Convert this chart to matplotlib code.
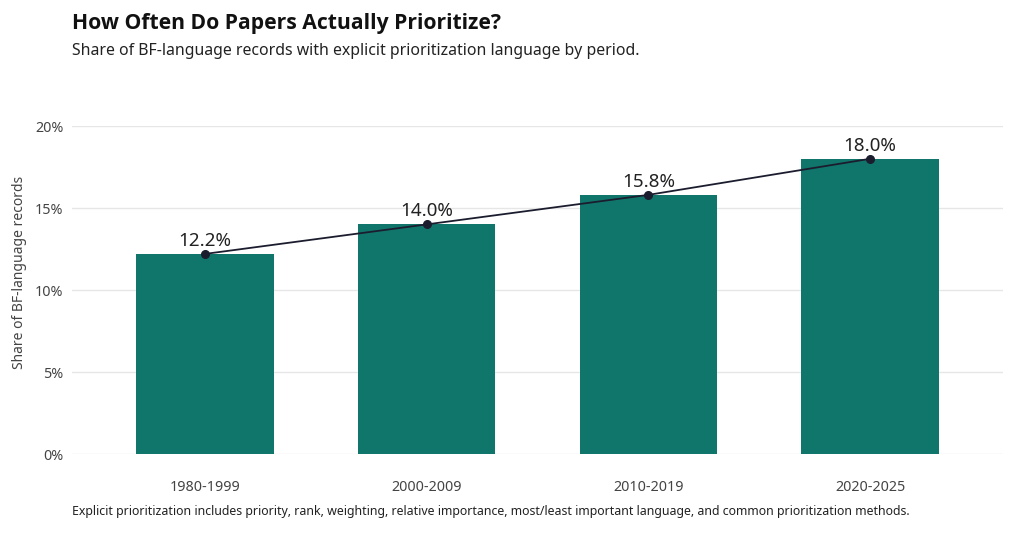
import matplotlib
matplotlib.use("Agg")
import matplotlib.pyplot as plt
from matplotlib.ticker import PercentFormatter

plt.rcParams['font.family'] = ['Noto Sans', 'DejaVu Sans']

# data
periods = ["1980-1999", "2000-2009", "2010-2019", "2020-2025"]
share = [0.122, 0.140, 0.158, 0.180]
yticks = [0.0, 0.05, 0.10, 0.15, 0.20]

bar_color = "#10766c"
line_color = "#1b1d2e"

fig = plt.figure(figsize=(10.24, 5.33), dpi=100)
ax = fig.add_axes([0.0703, 0.1482, 0.9092, 0.6154])

x = range(len(periods))
ax.bar(x, share, width=0.62, color=bar_color, zorder=2)
ax.plot(x, share, color=line_color, lw=1.3, marker="o", ms=5.5, zorder=3)
for xi, v in zip(x, share):
    ax.annotate(f"{v*100:.1f}%", (xi, v), xytext=(0, 3), textcoords="offset points",
                ha="center", va="bottom", fontsize=13.5, color="#222222",
                annotation_clip=False, zorder=4)

ax.set_xlim(-0.6, 3.6)
ax.set_ylim(0, 0.20)
ax.set_xticks(list(x))
ax.set_xticklabels(periods)
ax.set_yticks(yticks)
ax.yaxis.set_major_formatter(PercentFormatter(1.0, decimals=0))
ax.tick_params(axis="both", length=0, labelsize=10.3, labelcolor="#444444")
ax.tick_params(axis="x", pad=19)
ax.tick_params(axis="y", pad=6)
ax.grid(axis="y", color="#e6e6e6", lw=1, zorder=0)
ax.set_axisbelow(True)
for s in ax.spines.values():
    s.set_visible(False)

fig.text(0.0195, 0.488, "Share of BF-language records", rotation=90, ha="center", va="center",
         fontsize=10, color="#444444")

fig.text(0.0703, 0.956, "How Often Do Papers Actually Prioritize?", fontsize=15.2,
         fontweight="bold", family=["Open Sans", "DejaVu Sans"], color="#111111",
         ha="left", va="center")
fig.text(0.0703, 0.905, "Share of BF-language records with explicit prioritization language by period.",
         fontsize=11.4, color="#222222", ha="left", va="center")
fig.text(0.0703, 0.040,
         "Explicit prioritization includes priority, rank, weighting, relative importance, "
         "most/least important language, and common prioritization methods.",
         fontsize=8.9, color="#222222", ha="left", va="center")

fig.savefig("out.png", dpi=100, facecolor="white")
